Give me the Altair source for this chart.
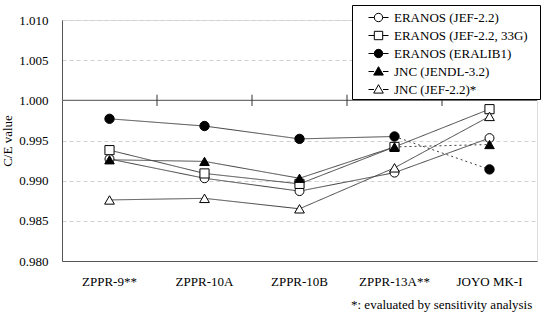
import altair as alt
import pandas as pd

# Experiments on the x axis
cases = ["ZPPR-9**", "ZPPR-10A", "ZPPR-10B", "ZPPR-13A**", "JOYO MK-I"]

# C/E values per calculation scheme
series_names = [
    "ERANOS (JEF-2.2)",
    "ERANOS (JEF-2.2, 33G)",
    "ERANOS (ERALIB1)",
    "JNC (JENDL-3.2)",
    "JNC (JEF-2.2)*",
]
eranos_jef22 = [0.9927, 0.9903, 0.9887, 0.9910, 0.9953]
eranos_jef22_33g = [0.9938, 0.9909, 0.9896, 0.9942, 0.9989]
eranos_eralib1 = [0.9977, 0.9968, 0.9952, 0.9955, 0.9914]
jnc_jendl32 = [0.9926, 0.9924, 0.9903, 0.9942, 0.9945]
jnc_jef22 = [0.9876, 0.9878, 0.9865, 0.9916, 0.9980]
values = [eranos_jef22, eranos_jef22_33g, eranos_eralib1, jnc_jendl32, jnc_jef22]

# Series whose last step (ZPPR-13A -> JOYO) is drawn dotted
dotted_last = ["ERANOS (ERALIB1)", "JNC (JENDL-3.2)"]

shapes = ["circle", "square", "circle", "triangle-up", "triangle-up"]
fills = ["white", "white", "black", "black", "white"]
sizes = [80, 95, 80, 80, 80]

# Legend glyphs: a short line with the marker on it
legend_paths = [
    "M-1,0H-0.42M0.42,0H1M-0.42,0A0.42,0.42,0,1,1,0.42,0A0.42,0.42,0,1,1,-0.42,0Z",
    "M-1,0H-0.42M0.42,0H1M-0.42,-0.42H0.42V0.42H-0.42Z",
    "M-1,0H-0.42M0.42,0H1M-0.42,0A0.42,0.42,0,1,1,0.42,0A0.42,0.42,0,1,1,-0.42,0Z",
    "M-1,0H-0.45M0.45,0H1M0,-0.48L0.48,0.36H-0.48Z",
    "M-1,0H-0.45M0.45,0H1M0,-0.48L0.48,0.36H-0.48Z",
]

footnote = "*: evaluated by sensitivity analysis"

points = pd.DataFrame(
    [
        {"series": s, "case": c, "ce": v}
        for s, vals in zip(series_names, values)
        for c, v in zip(cases, vals)
    ]
)

# Line segments: split each series into solid / dotted pieces
seg_rows = []
for s, vals in zip(series_names, values):
    n = len(cases)
    if s in dotted_last:
        for i in range(n - 1):
            seg_rows.append({"series": s, "piece": s + "|solid", "style": "solid", "case": cases[i], "ce": vals[i], "order": i})
        for i in (n - 2, n - 1):
            seg_rows.append({"series": s, "piece": s + "|dot", "style": "dotted", "case": cases[i], "ce": vals[i], "order": i})
    else:
        for i in range(n):
            seg_rows.append({"series": s, "piece": s + "|solid", "style": "solid", "case": cases[i], "ce": vals[i], "order": i})
segments = pd.DataFrame(seg_rows)

ticks = pd.DataFrame({"case": cases[1:], "lo": [0.9993] * 4, "hi": [1.0007] * 4})

font = "Liberation Serif, DejaVu Serif, serif"
y_scale = alt.Scale(domain=[0.980, 1.010], nice=False, zero=False)
x_scale = alt.Scale(domain=cases, paddingInner=0, paddingOuter=0)

x_enc = alt.X(
    "case:N",
    scale=x_scale,
    sort=cases,
    axis=alt.Axis(
        title=None, ticks=False, labelPadding=14, labelAngle=0,
        domainColor="#555", labelFont=font, labelFontSize=13, labelColor="black",
        grid=False,
    ),
)
y_enc = alt.Y(
    "ce:Q",
    scale=y_scale,
    axis=alt.Axis(
        title="C/E value", values=[0.980, 0.985, 0.990, 0.995, 1.000, 1.005, 1.010],
        format=".3f", ticks=False, labelPadding=14, domainColor="#555",
        labelFont=font, labelFontSize=13, labelColor="black",
        titleFont=font, titleFontSize=13, titleFontWeight="normal", titleColor="black",
        titlePadding=4,
        grid=True, gridColor="#d0d0d0", gridDash=[4, 3], gridWidth=1,
    ),
)

unity = alt.Chart(pd.DataFrame({"ref": [1.0]})).mark_rule(color="#707070", strokeWidth=1.2).encode(
    y=alt.Y("ref:Q", scale=y_scale)
)

unity_ticks = alt.Chart(ticks).mark_rule(color="#333", strokeWidth=1).encode(
    x=alt.X("case:N", scale=x_scale, sort=cases, bandPosition=0),
    y=alt.Y("lo:Q", scale=y_scale),
    y2="hi:Q",
)

lines = alt.Chart(segments).mark_line(color="#404040", strokeWidth=1).encode(
    x=x_enc,
    y=y_enc,
    detail="piece:N",
    order="order:Q",
    strokeDash=alt.StrokeDash(
        "style:N",
        scale=alt.Scale(domain=["solid", "dotted"], range=[[1, 0], [2, 3]]),
        legend=None,
    ),
    strokeWidth=alt.StrokeWidth(
        "style:N", scale=alt.Scale(domain=["solid", "dotted"], range=[1, 1.6]), legend=None
    ),
)

markers = alt.Chart(points).mark_point(filled=True, stroke="black", strokeWidth=1, opacity=1).encode(
    x=alt.X("case:N", scale=x_scale, sort=cases),
    y=alt.Y("ce:Q", scale=y_scale),
    shape=alt.Shape("series:N", scale=alt.Scale(domain=series_names, range=shapes), legend=None),
    fill=alt.Fill("series:N", scale=alt.Scale(domain=series_names, range=fills), legend=None),
    size=alt.Size("series:N", scale=alt.Scale(domain=series_names, range=sizes), legend=None),
)

# Legend-only layer (no marks drawn)
legend_layer = alt.Chart(points).transform_filter("false").mark_point(
    filled=True, strokeWidth=1, opacity=1
).encode(
    x=alt.X("case:N", scale=x_scale, sort=cases),
    y=alt.Y("ce:Q", scale=y_scale),
    shape=alt.Shape(
        "series:N",
        scale=alt.Scale(domain=series_names, range=legend_paths),
        legend=alt.Legend(
            title=" ", titleOrient="right", titlePadding=10,
            orient="none", legendX=290, legendY=-15,
            strokeColor="black", fillColor="white", padding=2,
            symbolSize=400, symbolStrokeWidth=1,
            symbolOpacity=1,
            symbolOffset=14, labelOffset=5, rowPadding=0,
            labelFont=font, labelFontSize=13, labelColor="black", labelLimit=300,
        ),
    ),
    fill=alt.Fill("series:N", scale=alt.Scale(domain=series_names, range=fills)),
    stroke=alt.Stroke("series:N", scale=alt.Scale(domain=series_names, range=["black"] * 5)),
)

note = alt.Chart(pd.DataFrame({"t": [footnote]})).mark_text(
    align="left", baseline="alphabetic", font=font, fontSize=13, color="black"
).encode(x=alt.value(289), y=alt.value(289), text="t:N")

chart = (
    alt.layer(unity, lines, unity_ticks, markers, legend_layer, note)
    .resolve_scale(shape="independent", fill="independent", size="independent",
                   strokeWidth="independent", stroke="independent")
    .properties(
        width=475,
        height=241,
        autosize=alt.AutoSizeParams(type="none"),
        padding={"left": 62, "top": 20, "right": 9, "bottom": 51},
    )
    .configure_view(stroke="#999", strokeWidth=1)
    .configure(background="white", font=font)
)

chart.save("out.html", embed_options={"renderer": "svg", "actions": False})
